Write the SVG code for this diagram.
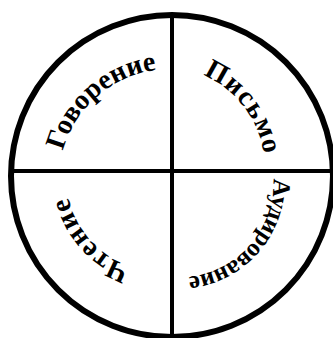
<svg xmlns="http://www.w3.org/2000/svg" xmlns:xlink="http://www.w3.org/1999/xlink" width="333" height="338" viewBox="0 0 333 338">
<style>
.lbl{font-family:"Liberation Serif","Times New Roman",serif;font-weight:bold;font-size:28px;fill:#000}
.ln{stroke:#000;stroke-width:4;fill:none}
</style>
<defs>
<path id="pG" d="M62.85 150.75 A111 111 0 0 1 155.89 70.15"/>
<path id="pP" d="M202.91 75.04 A101.5 101.5 0 0 1 263.35 152.6"/>
<path id="pA" d="M273.44 178.61 A95.5 95.5 0 0 1 188.81 276.9"/>
<path id="pC" d="M130.58 266.79 A96 96 0 0 1 68.65 198.6"/>
</defs>
<rect width="333" height="338" fill="#fff"/>
<g id="frame">
<circle cx="172" cy="176" r="161" fill="none" stroke="#000" stroke-width="6"/>
<line class="ln" x1="172" y1="14" x2="172" y2="338"/>
<line class="ln" x1="10" y1="171" x2="333" y2="171"/>
</g>
<g id="govorenie"><text class="lbl"><textPath xlink:href="#pG" textLength="131" lengthAdjust="spacing">Говорение</textPath></text></g>
<g id="pismo"><text class="lbl"><textPath xlink:href="#pP" textLength="104" lengthAdjust="spacing">Письмо</textPath></text></g>
<g id="audirovanie"><text class="lbl" style="font-size:25px"><textPath xlink:href="#pA" textLength="143" lengthAdjust="spacing">Аудирование</textPath></text></g>
<g id="chtenie"><text class="lbl"><textPath xlink:href="#pC" textLength="97" lengthAdjust="spacing">Чтение</textPath></text></g>
</svg>
